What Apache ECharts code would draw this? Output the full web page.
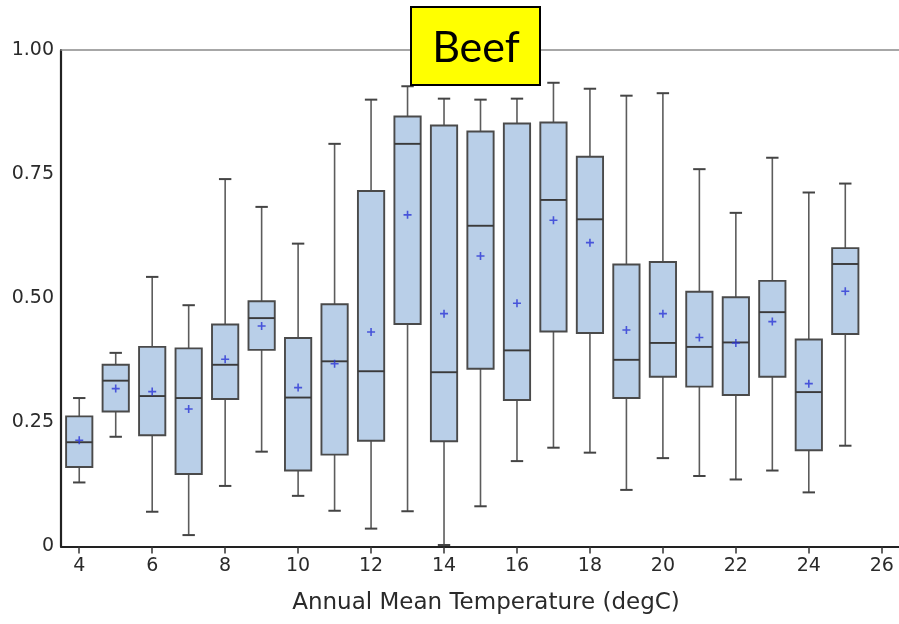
<!DOCTYPE html>
<html>
<head>
<meta charset="utf-8">
<script src="https://cdn.jsdelivr.net/npm/echarts@6/dist/echarts.min.js"></script>
<style>
  html, body { margin: 0; padding: 0; background: #fff; }
  #chart { width: 899px; height: 624px; }
</style>
</head>
<body>
<div id="chart"></div>
<script>
// Annual mean temperature bins (degC); 26 is an empty slot at the axis end
const categories = ['4','5','6','7','8','9','10','11','12','13','14','15','16','17','18','19','20','21','22','23','24','25','26'];

// Box statistics per temperature bin
const whiskerLow  = [0.129, 0.221, 0.070, 0.023, 0.122, 0.191, 0.102, 0.072, 0.036, 0.071, 0.003, 0.081, 0.172, 0.199, 0.189, 0.114, 0.178, 0.142, 0.135, 0.153, 0.109, 0.203];
const q1          = [0.160, 0.272, 0.224, 0.146, 0.297, 0.396, 0.153, 0.185, 0.213, 0.448, 0.212, 0.358, 0.295, 0.433, 0.430, 0.299, 0.342, 0.322, 0.305, 0.342, 0.194, 0.428];
const median      = [0.210, 0.334, 0.303, 0.299, 0.366, 0.460, 0.300, 0.373, 0.353, 0.811, 0.351, 0.646, 0.395, 0.698, 0.659, 0.376, 0.410, 0.402, 0.411, 0.472, 0.311, 0.569];
const q3          = [0.262, 0.366, 0.402, 0.399, 0.447, 0.494, 0.420, 0.488, 0.716, 0.866, 0.848, 0.836, 0.852, 0.854, 0.785, 0.568, 0.573, 0.513, 0.502, 0.535, 0.417, 0.601];
const whiskerHigh = [0.299, 0.390, 0.543, 0.486, 0.740, 0.684, 0.610, 0.811, 0.900, 0.927, 0.902, 0.900, 0.902, 0.934, 0.922, 0.908, 0.913, 0.760, 0.672, 0.783, 0.713, 0.731];
const means       = [0.214, 0.318, 0.312, 0.277, 0.377, 0.444, 0.320, 0.368, 0.432, 0.668, 0.469, 0.585, 0.490, 0.657, 0.612, 0.436, 0.469, 0.421, 0.410, 0.453, 0.328, 0.514];

// y-axis tick labels
const yTickLabels = { 0: '0', 0.25: '0.25', 0.5: '0.50', 0.75: '0.75', 1: '1.00' };

const boxData = categories.slice(0, whiskerLow.length).map((c, i) =>
  [i, whiskerLow[i], q1[i], median[i], q3[i], whiskerHigh[i]]);
const meanData = means.map((m, i) => [i, m]);

const BOX_FILL = '#b9cfe8';
const BOX_EDGE = '#4a4a4a';
const WHISKER = '#5c5c5c';
const AXIS_FONT = 'DejaVu Sans';

function renderBox(params, api) {
  const x = api.value(0);
  const pLow = api.coord([x, api.value(1)]);
  const pQ1 = api.coord([x, api.value(2)]);
  const pMed = api.coord([x, api.value(3)]);
  const pQ3 = api.coord([x, api.value(4)]);
  const pHigh = api.coord([x, api.value(5)]);
  const band = api.size([1, 0])[0];
  const halfBox = band * 0.36;
  const halfCap = band * 0.17;
  const cx = pQ1[0];
  const lineStyle = { stroke: WHISKER, lineWidth: 1.6 };
  return {
    type: 'group',
    children: [
      { type: 'line', shape: { x1: cx, y1: pQ3[1], x2: cx, y2: pHigh[1] }, style: lineStyle },
      { type: 'line', shape: { x1: cx, y1: pQ1[1], x2: cx, y2: pLow[1] }, style: lineStyle },
      { type: 'line', shape: { x1: cx - halfCap, y1: pHigh[1], x2: cx + halfCap, y2: pHigh[1] }, style: { stroke: '#444', lineWidth: 2 } },
      { type: 'line', shape: { x1: cx - halfCap, y1: pLow[1], x2: cx + halfCap, y2: pLow[1] }, style: { stroke: '#444', lineWidth: 2 } },
      { type: 'rect', shape: { x: cx - halfBox, y: pQ3[1], width: halfBox * 2, height: pQ1[1] - pQ3[1] },
        style: { fill: BOX_FILL, stroke: BOX_EDGE, lineWidth: 1.9 } },
      { type: 'line', shape: { x1: cx - halfBox, y1: pMed[1], x2: cx + halfBox, y2: pMed[1] },
        style: { stroke: '#3a3a3a', lineWidth: 1.9 } }
    ]
  };
}

const chart = echarts.init(document.getElementById('chart'), null, { renderer: 'canvas' });
chart.setOption({
  backgroundColor: '#ffffff',
  animation: false,
  grid: { left: 61, right: -1, top: 50, bottom: 77.5, containLabel: false, outerBoundsMode: 'none' },
  xAxis: [{
    type: 'category',
    data: categories,
    boundaryGap: true,
    name: 'Annual Mean Temperature (degC)',
    nameLocation: 'middle',
    nameGap: 45,
    nameTextStyle: { fontFamily: AXIS_FONT, fontSize: 23, color: '#2a2a2a', padding: [0, 0, 0, 11] },
    axisLine: { lineStyle: { color: '#222', width: 2.2 } },
    axisTick: { show: true, interval: 1, alignWithLabel: true, length: 7, lineStyle: { color: '#333', width: 1.5 } },
    axisLabel: { interval: 1, margin: 10, fontFamily: AXIS_FONT, fontSize: 19, color: '#2a2a2a' },
    splitLine: { show: false }
  }, {
    type: 'category',
    data: categories,
    position: 'top',
    axisLine: { show: true, onZero: false, lineStyle: { color: '#8a8a8a', width: 1.6 } },
    axisTick: { show: false },
    axisLabel: { show: false },
    splitLine: { show: false }
  }],
  yAxis: [{
    type: 'value',
    min: 0,
    max: 1,
    interval: 0.25,
    axisLine: { show: true, lineStyle: { color: '#222', width: 2.2 } },
    axisTick: { show: false },
    axisLabel: {
      margin: 7,
      fontFamily: AXIS_FONT,
      fontSize: 19,
      color: '#2a2a2a',
      formatter: v => yTickLabels[v] !== undefined ? yTickLabels[v] : ''
    },
    splitLine: { show: false }
  }, {
    type: 'value',
    min: 0,
    max: 1,
    interval: 0.25,
    position: 'right',
    axisLine: { show: true, onZero: false, lineStyle: { color: '#e2e2e2', width: 1 } },
    axisTick: { show: false },
    axisLabel: { show: false },
    splitLine: { show: false }
  }],
  graphic: [{
    type: 'group',
    left: 410,
    top: 6,
    z: 100,
    children: [
      { type: 'rect', z: 100, shape: { x: 0, y: 0, width: 129, height: 78 },
        style: { fill: '#ffff00', stroke: '#000', lineWidth: 2 } },
      { type: 'text', z: 101, x: 65, y: 41,
        style: { text: 'Beef', font: '43px Lato', fill: '#000', align: 'center', verticalAlign: 'middle' } }
    ]
  }],
  series: [{
    type: 'custom',
    renderItem: renderBox,
    data: boxData,
    encode: { x: 0, y: [1, 2, 3, 4, 5] },
    z: 2
  }, {
    type: 'scatter',
    data: meanData,
    symbol: 'path://M4,0 L6,0 L6,4 L10,4 L10,6 L6,6 L6,10 L4,10 L4,6 L0,6 L0,4 L4,4 Z',
    symbolSize: 8,
    itemStyle: { color: '#2a35d6' },
    z: 3
  }]
});
</script>
</body>
</html>
